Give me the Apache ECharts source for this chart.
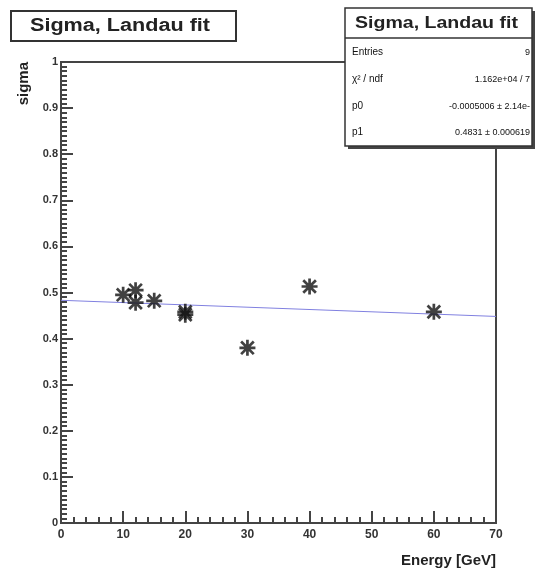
<!DOCTYPE html>
<html><head><meta charset="utf-8">
<script src="https://cdn.jsdelivr.net/npm/echarts@6/dist/echarts.min.js"></script>
<style>html,body{margin:0;padding:0;background:#fff}#c{width:539px;height:574px}</style>
</head><body><div id="c"></div>
<script>
const energy = [10, 12, 12, 15, 20, 20, 30, 40, 60];
const sigma = [0.495, 0.505, 0.478, 0.482, 0.458, 0.452, 0.380, 0.513, 0.458];
const fitX = [0, 70];
const fitY = [0.4831, 0.4481];
const statLabels = ['Entries', 'χ² / ndf', 'p0', 'p1'];
const statValues = ['9', '1.162e+04 / 7', '-0.0005006 ± 2.14e-', '0.4831 ± 0.000619'];
const titleText = 'Sigma, Landau fit';

const star = 'path://M0 8.3 L20 8.3 L20 11.7 L0 11.7 Z M8.3 0 L11.7 0 L11.7 20 L8.3 20 Z M3.3 0.9 L19.1 16.7 L16.7 19.1 L0.9 3.3 Z M16.7 0.9 L19.1 3.3 L3.3 19.1 L0.9 16.7 Z';
const font = 'Liberation Sans, Arial, sans-serif';

const chart = echarts.init(document.getElementById('c'), null, {renderer: 'canvas'});
const statEls = [];
const rowY = [53, 80, 107, 133];
statLabels.forEach((t, i) => {
  statEls.push({type: 'text', left: 352, top: rowY[i] - 6, style: {text: t, font: '10px ' + font, fill: '#111'}});
  statEls.push({type: 'text', right: 9, top: rowY[i] - 5, style: {text: statValues[i], font: '9px ' + font, fill: '#111', textAlign: 'right'}});
});
chart.setOption({
  animation: false,
  grid: {left: 61, top: 62, right: 43, bottom: 51, show: true, borderColor: '#444', borderWidth: 2, containLabel: false},
  xAxis: {
    type: 'value', min: 0, max: 70, interval: 10,
    name: 'Energy [GeV]', nameLocation: 'end', nameGap: 0,
    nameTextStyle: {fontFamily: font, fontWeight: 'bold', fontSize: 15, color: '#222', align: 'right', verticalAlign: 'top', padding: [30, 0, 0, 0]},
    axisLine: {show: true, lineStyle: {color: '#444', width: 2}},
    axisTick: {show: true, inside: true, length: 12, lineStyle: {color: '#444', width: 2}},
    minorTick: {show: true, splitNumber: 5, length: 6, lineStyle: {color: '#444', width: 2}},
    axisLabel: {fontFamily: font, fontWeight: 'bold', fontSize: 12, color: '#333', margin: 6},
    splitLine: {show: false}
  },
  yAxis: {
    type: 'value', min: 0, max: 1, interval: 0.1,
    name: 'sigma', nameLocation: 'end', nameRotate: 90, nameGap: 0,
    nameTextStyle: {fontFamily: font, fontWeight: 'bold', fontSize: 15, color: '#222', align: 'right', verticalAlign: 'bottom', padding: [0, 0, 30, 0]},
    axisLine: {show: true, lineStyle: {color: '#444', width: 2}},
    axisTick: {show: true, inside: true, length: 12, lineStyle: {color: '#444', width: 2}},
    minorTick: {show: true, splitNumber: 10, length: 6, lineStyle: {color: '#444', width: 2}},
    axisLabel: {fontFamily: font, fontWeight: 'bold', fontSize: 11, color: '#333', margin: 3},
    splitLine: {show: false}
  },
  series: [
    {type: 'line', data: fitX.map((x, i) => [x, fitY[i]]), showSymbol: false, lineStyle: {color: '#8080e0', width: 1}, z: 2},
    {type: 'scatter', data: energy.map((x, i) => [x, sigma[i]]), symbol: star, symbolSize: 16, itemStyle: {color: '#111'}, z: 3}
  ],
  graphic: [
    {type: 'rect', shape: {x: 11, y: 11, width: 225, height: 30}, style: {fill: '#fff', stroke: '#333', lineWidth: 2}},
    {type: 'text', x: 30, y: 17, scaleX: 1.2, style: {text: titleText, font: 'bold 18px ' + font, fill: '#222'}},
    {type: 'rect', shape: {x: 348, y: 11, width: 187, height: 138}, style: {fill: '#444'}},
    {type: 'rect', shape: {x: 345, y: 8, width: 187, height: 138}, style: {fill: '#fff', stroke: '#333', lineWidth: 1.5}},
    {type: 'line', shape: {x1: 345, y1: 38, x2: 532, y2: 38}, style: {stroke: '#333', lineWidth: 1.5}},
    {type: 'text', x: 355, y: 15, scaleX: 1.15, style: {text: titleText, font: 'bold 17px ' + font, fill: '#222'}},
    ...statEls
  ]
});
</script></body></html>
